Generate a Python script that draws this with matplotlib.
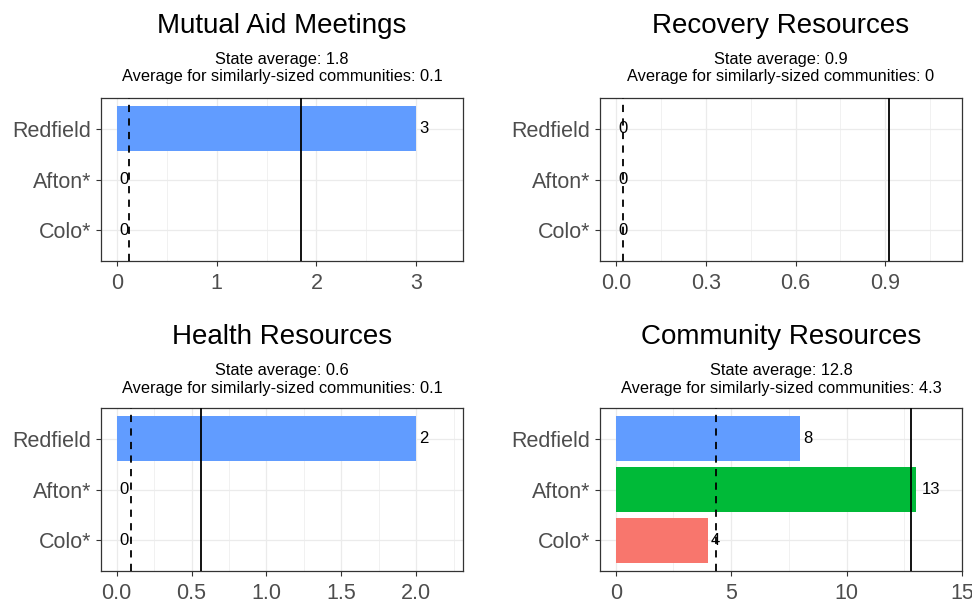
import numpy as np
import matplotlib
matplotlib.use("Agg")
import matplotlib.pyplot as plt

plt.rcParams['font.family'] = ['Liberation Sans', 'DejaVu Sans']

# data
towns = ["Redfield", "Afton*", "Colo*"]
town_colors = ["#619CFF", "#00BA38", "#F8766D"]

titles = ["Mutual Aid Meetings", "Recovery Resources",
          "Health Resources", "Community Resources"]
mutual_aid = [3, 0, 0]
recovery = [0, 0, 0]
health = [2, 0, 0]
community = [8, 13, 4]
panel_values = [mutual_aid, recovery, health, community]

state_avg = [1.845, 0.911, 0.565, 12.81]
similar_avg = [0.117, 0.0245, 0.098, 4.33]
state_avg_label = ["1.8", "0.9", "0.6", "12.8"]
similar_avg_label = ["0.1", "0", "0.1", "4.3"]

xlims = [(-0.16, 3.47), (-0.0535, 1.156), (-0.105, 2.313), (-0.68, 15.0)]
major_ticks = [[0, 1, 2, 3], [0, 0.3, 0.6, 0.9],
               [0, 0.5, 1.0, 1.5, 2.0], [0, 5, 10, 15]]
minor_ticks = [[0.5, 1.5, 2.5], [0.15, 0.45, 0.75, 1.05],
               [0.25, 0.75, 1.25, 1.75, 2.25], [2.5, 7.5, 12.5]]
tick_labels = [["0", "1", "2", "3"], ["0.0", "0.3", "0.6", "0.9"],
               ["0.0", "0.5", "1.0", "1.5", "2.0"], ["0", "5", "10", "15"]]

W, H = 972, 602
DPI = 100
fig = plt.figure(figsize=(W / DPI, H / DPI), dpi=DPI)

# panel boxes in pixels: left, right, top, bottom
boxes = [(101, 463, 98, 261), (600, 962, 98, 261),
         (101, 463, 408, 571), (600, 962, 408, 571)]
title_y = [33, 33, 344, 344]


def fx(px):
    return px / W


def fy(py):
    return 1 - py / H


grid_col = "#EBEBEB"
ypos = np.array([3, 2, 1])

for k in range(4):
    l, r, t, b = boxes[k]
    ax = fig.add_axes([fx(l), fy(b), fx(r - l), (b - t) / H])
    vals = panel_values[k]

    ax.set_xlim(*xlims[k])
    ax.set_ylim(0.4, 3.6)

    for x in minor_ticks[k]:
        ax.axvline(x, color=grid_col, lw=0.5, zorder=0)
    for x in major_ticks[k]:
        ax.axvline(x, color=grid_col, lw=0.9, zorder=0)
    for y in ypos:
        ax.axhline(y, color=grid_col, lw=0.9, zorder=0)

    ax.barh(ypos, vals, height=0.9, color=town_colors, zorder=2)
    ax.axvline(state_avg[k], color="black", lw=1.3, zorder=3)
    ax.axvline(similar_avg[k], color="black", lw=1.3, zorder=3,
               linestyle=(0, (4, 3.5)))

    for v, y in zip(vals, ypos):
        s = str(v)
        off = 0.3 * len(s) * 0.556 * 12
        ax.annotate(s, (v, y), xytext=(off, 0), textcoords="offset points",
                    ha="left", va="center", fontsize=12, color="black",
                    zorder=4)

    ax.set_xticks(major_ticks[k])
    ax.set_xticklabels(tick_labels[k])
    ax.set_yticks(ypos)
    ax.set_yticklabels(towns)
    ax.tick_params(axis="both", length=3.8, width=0.8, color="#333333",
                   labelsize=15.5, labelcolor="#4D4D4D")
    ax.tick_params(axis="x", pad=4.5)
    ax.tick_params(axis="y", pad=3)
    for sp in ax.spines.values():
        sp.set_color("#333333")
        sp.set_linewidth(0.9)

    cx = fx((l + r) / 2)
    fig.text(cx, fy(title_y[k]), titles[k], ha="center", va="baseline",
             fontsize=20, color="black")
    fig.text(cx, fy(title_y[k] + 31), "State average: " + state_avg_label[k],
             ha="center", va="baseline", fontsize=11.8, color="black")
    fig.text(cx, fy(title_y[k] + 48.5),
             "Average for similarly-sized communities: " + similar_avg_label[k],
             ha="center", va="baseline", fontsize=11.8, color="black")

fig.savefig("out.png", dpi=DPI)
